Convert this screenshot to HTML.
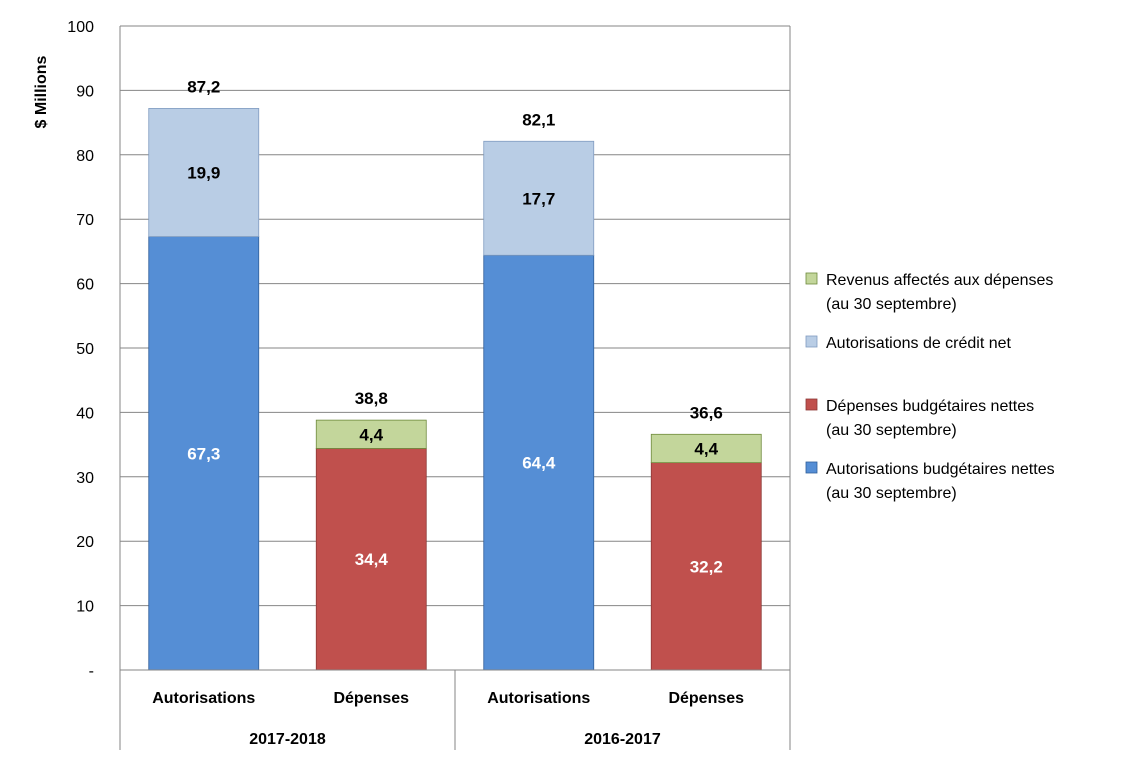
<!DOCTYPE html>
<html><head><meta charset="utf-8"><style>
body{margin:0;background:#fff;}
svg text{font-family:"Liberation Sans",sans-serif;}
</style></head><body>
<svg id="chart" width="1123" height="772" xmlns="http://www.w3.org/2000/svg">
<g id="grid"></g>
<g id="yaxis"></g>
<g id="bars"></g>
<g id="xaxis"></g>
<text transform="translate(46,92) rotate(-90)" text-anchor="middle" font-size="16" font-weight="bold">$ Millions</text>
<g id="legend"></g>
</svg>
<script>
const categories=["Autorisations","Dépenses","Autorisations","Dépenses"];
const groups=["2017-2018","2016-2017"];
const baseValues=[67.3,34.4,64.4,32.2];
const topValues=[19.9,4.4,17.7,4.4];
const totals=[87.2,38.8,82.1,36.6];
const yTicks=[0,10,20,30,40,50,60,70,80,90,100];
const yTickLabels=["-","10","20","30","40","50","60","70","80","90","100"];
const NS="http://www.w3.org/2000/svg";
const X0=120,X1=790,Y0=670,Y1=26;
const y=v=>Y0-(v/100)*(Y0-Y1);
const catW=(X1-X0)/categories.length, barW=110;
const cx=i=>X0+catW*(i+0.5);
function mk(tag,attrs,parent,txt){const e=document.createElementNS(NS,tag);for(const k in attrs)e.setAttribute(k,attrs[k]);if(txt!==undefined)e.textContent=txt;parent.appendChild(e);return e;}
const grid=document.getElementById('grid'),ya=document.getElementById('yaxis'),bars=document.getElementById('bars'),xa=document.getElementById('xaxis'),lg=document.getElementById('legend');
yTicks.forEach((t,i)=>{
 if(t>0){const l=mk('line',{x1:X0,x2:X1,y1:y(t),y2:y(t),stroke:'#868686','stroke-width':1},grid);
 
 }
 const tx=mk('text',{x:94,y:y(t)+6,'text-anchor':'end','font-size':16},ya,yTickLabels[i]);
 
 
});
mk('line',{x1:X0,x2:X0,y1:Y1,y2:Y0,stroke:'#868686'},ya);
mk('line',{x1:X1,x2:X1,y1:Y1,y2:Y0,stroke:'#868686'},ya);
mk('line',{x1:X0,x2:X1,y1:Y0,y2:Y0,stroke:'#868686'},xa);
const baseCol=["#558ED5","#C0504D","#558ED5","#C0504D"];
const topCol=["#B9CDE5","#C3D69B","#B9CDE5","#C3D69B"];
const baseStroke=["#2F5F9A","#8C3836","#2F5F9A","#8C3836"];
const topStroke=["#7F9BC0","#6E8A3C","#7F9BC0","#6E8A3C"];
categories.forEach((c,i)=>{
 const x=cx(i)-barW/2;
 const b=mk('rect',{x:x,y:y(baseValues[i]),width:barW,height:y(0)-y(baseValues[i]),fill:baseCol[i],stroke:baseStroke[i],'stroke-width':0.8},bars);
 
 
 const t=mk('rect',{x:x,y:y(baseValues[i]+topValues[i]),width:barW,height:y(baseValues[i])-y(baseValues[i]+topValues[i]),fill:topCol[i],stroke:topStroke[i],'stroke-width':0.8},bars);
 
 
 const f=v=>v.toFixed(1).replace('.',',');
 const l1=mk('text',{x:cx(i),y:(y(0)+y(baseValues[i]))/2+6,'text-anchor':'middle','font-size':17,'font-weight':'bold',fill:'#fff'},bars,f(baseValues[i]));
 
 
 const l2=mk('text',{x:cx(i),y:(y(baseValues[i])+y(baseValues[i]+topValues[i]))/2+6,'text-anchor':'middle','font-size':17,'font-weight':'bold',fill:'#000'},bars,f(topValues[i]));
 
 
 const l3=mk('text',{x:cx(i),y:y(baseValues[i]+topValues[i])-16,'text-anchor':'middle','font-size':17,'font-weight':'bold'},bars,f(totals[i]));
 
 
 const cl=mk('text',{x:cx(i),y:703,'text-anchor':'middle','font-size':16,'font-weight':'bold'},xa,c);
 
 
});
const gw=(X1-X0)/groups.length;
[0,1,2].forEach(k=>mk('line',{x1:X0+gw*k,x2:X0+gw*k,y1:Y0,y2:750,stroke:'#868686'},xa));
groups.forEach((g,k)=>{
 const gl=mk('text',{x:X0+gw*(k+0.5),y:744,'text-anchor':'middle','font-size':16,'font-weight':'bold'},xa,g);
 
 
});
const legendItems=[
 {c:"#C3D69B",s:"#6E8A3C",y:279,lines:["Revenus affectés aux dépenses","(au 30 septembre)"]},
 {c:"#B9CDE5",s:"#7F9BC0",y:342,lines:["Autorisations de crédit net"]},
 {c:"#C0504D",s:"#8C3836",y:405,lines:["Dépenses budgétaires nettes","(au 30 septembre)"]},
 {c:"#558ED5",s:"#2F5F9A",y:468,lines:["Autorisations budgétaires nettes","(au 30 septembre)"]}];
legendItems.forEach(it=>{
 const g=mk('g',{},lg);
 
 
 mk('rect',{x:806,y:it.y-6,width:11,height:11,fill:it.c,stroke:it.s,'stroke-width':0.8},g);
 it.lines.forEach((t,j)=>mk('text',{x:826,y:it.y+6+j*24,'font-size':16},g,t));
});
</script>
</body></html>
